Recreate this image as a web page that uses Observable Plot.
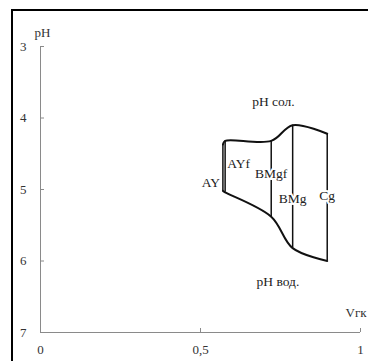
<!DOCTYPE html>
<html>
<head>
<meta charset="utf-8">
<script src="https://cdn.jsdelivr.net/npm/d3@7"></script>
<script src="https://cdn.jsdelivr.net/npm/@observablehq/plot@0.6"></script>
<style>
  body { margin: 0; background: #fff; }
  #wrap { position: relative; width: 368px; height: 361px; overflow: hidden; }
  #border { position: absolute; left: 11px; top: 9px; width: 420px; height: 420px;
            border-left: 2px solid #000; border-top: 2px solid #000; pointer-events: none; }
</style>
</head>
<body>
<div id="wrap"><div id="chart"></div><div id="border"></div></div>
<script>
// Soil horizons and their humus-acid ratio (Vгк) with salt and water pH
const horizons = ["AY", "AYf", "BMgf", "BMg", "Cg"];
const vgk      = [0.570, 0.577, 0.721, 0.788, 0.896];
const phSalt   = [4.37, 4.32, 4.32, 4.10, 4.22];
const phWater  = [5.02, 5.04, 5.38, 5.82, 6.00];
const horizonLabelPH = [4.90, 4.64, 4.78, 5.13, 5.08];

// Series captions and where they sit (data units)
const seriesNames = ["pH сол.", "pH вод."];
const seriesNameVgk = [0.728, 0.742];
const seriesNamePH  = [3.77, 6.29];

// Axis ticks
const yTicks = [3, 4, 5, 6, 7];
const yTickLabels = ["3", "4", "5", "6", "7"];
const xTicks = [0, 0.5, 1];
const xTickLabels = ["0", "0,5", "1"];

const rows = horizons.map((h, i) => ({horizon: h, vgk: vgk[i], salt: phSalt[i], water: phWater[i], labelPH: horizonLabelPH[i]}));
const captions = seriesNames.map((s, i) => ({name: s, vgk: seriesNameVgk[i], ph: seriesNamePH[i]}));

const W = 368, H = 361;
const mL = 40, mR = 8, mT = 46, mB = 29;
const font = "'Liberation Serif', 'Times New Roman', serif";
const axisColor = "#8a8a8a";

const chart = Plot.plot({
  width: W, height: H,
  marginLeft: mL, marginRight: mR, marginTop: mT, marginBottom: mB,
  style: {fontFamily: font, fontSize: "13px", background: "#fff", overflow: "visible"},
  x: {domain: [0, 1]},
  y: {domain: [3, 7], reverse: true},
  marks: [
    // axis lines and inward ticks
    Plot.ruleX([0], {stroke: axisColor}),
    Plot.ruleY([7], {stroke: axisColor}),
    Plot.tickY(yTicks, {y: d => d, stroke: axisColor, insetRight: W - mL - mR - 4}),
    Plot.tickX(xTicks, {x: d => d, stroke: axisColor, insetTop: H - mT - mB - 4}),
    Plot.axisY({ticks: yTicks, tickSize: 0, tickPadding: 14, label: null, fill: "#333", fontSize: 13,
                tickFormat: d => yTickLabels[yTicks.indexOf(d)]}),
    Plot.axisX({ticks: xTicks, tickSize: 0, tickPadding: 12, label: null, fill: "#333", fontSize: 13,
                tickFormat: d => xTickLabels[xTicks.indexOf(d)]}),
    // axis titles
    Plot.text(["pH"], {frameAnchor: "top-left", textAnchor: "middle", lineAnchor: "middle",
                       dy: -14, dx: 2, fill: "#333", fontSize: 13}),
    Plot.text(["Vгк"], {frameAnchor: "bottom-right", textAnchor: "start", lineAnchor: "middle",
                        dx: -15, dy: -20, fill: "#333", fontSize: 13}),
    // horizon boundaries
    Plot.ruleX(rows, {x: "vgk", y1: "salt", y2: "water", stroke: "#111", strokeWidth: 1.5}),
    // pH curves
    Plot.line(rows, {x: "vgk", y: "salt", curve: "catmull-rom", stroke: "#111", strokeWidth: 2}),
    Plot.line(rows, {x: "vgk", y: "water", curve: "catmull-rom", stroke: "#111", strokeWidth: 2}),
    // horizon labels
    Plot.text(rows.slice(0, 1), {x: "vgk", y: "labelPH", text: "horizon", textAnchor: "end", dx: -3, fill: "#222", fontSize: 13.5}),
    Plot.text(rows.slice(1, 2), {x: "vgk", y: "labelPH", text: "horizon", textAnchor: "start", dx: 2, fill: "#222", fontSize: 13.5}),
    Plot.text(rows.slice(2), {x: "vgk", y: "labelPH", text: "horizon", fill: "#222", fontSize: 13.5,
                              stroke: "white", strokeWidth: 4, paintOrder: "stroke"}),
    // series captions
    Plot.text(captions, {x: "vgk", y: "ph", text: "name", fill: "#222", fontSize: 13.5})
  ]
});
document.getElementById("chart").appendChild(chart);
</script>
</body>
</html>
